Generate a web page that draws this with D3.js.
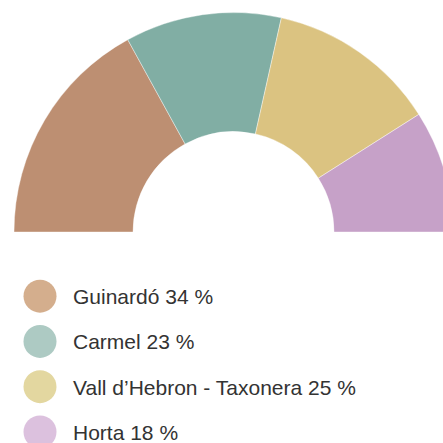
<!DOCTYPE html>
<html>
<head>
<meta charset="utf-8">
<script src="https://cdn.jsdelivr.net/npm/d3@7"></script>
<style>
  html, body { margin: 0; padding: 0; background: #fff; }
</style>
</head>
<body>
<div id="vis"></div>
<script>
// Half donut: share by neighbourhood
const names = ["Guinardó", "Carmel", "Vall d\u2019Hebron - Taxonera", "Horta"];
const shares = [34, 23, 25, 18];
const sliceColors = ["#bd8f72", "#81aea4", "#dbc381", "#c6a1c8"];
const legendColors = ["#d4ae8d", "#adcac3", "#e3d7a0", "#dcc1de"];

const width = 443;
const height = 443;
const cx = 233.5, cy = 232;
const outerR = 219.5, innerR = 100.5;

const svg = d3.select("#vis")
  .append("svg")
  .attr("width", width)
  .attr("height", height);

const data = names.map((n, i) => ({ name: n, value: shares[i], color: sliceColors[i], legend: legendColors[i] }));

const pie = d3.pie()
  .sort(null)
  .value(d => d.value)
  .startAngle(-Math.PI / 2)
  .endAngle(Math.PI / 2);

const arc = d3.arc()
  .innerRadius(innerR)
  .outerRadius(outerR);

svg.append("g")
  .attr("transform", `translate(${cx},${cy})`)
  .selectAll("path")
  .data(pie(data))
  .enter()
  .append("path")
  .attr("d", arc)
  .attr("fill", d => d.data.color)
  .attr("stroke", "#ffffff")
  .attr("stroke-width", 0.4);

// Legend
const legendY = d3.scaleBand()
  .domain(names)
  .range([273.5, 454.5]);

const legend = svg.append("g")
  .selectAll("g")
  .data(data)
  .enter()
  .append("g")
  .attr("transform", d => `translate(0,${legendY(d.name) + legendY.bandwidth() / 2})`);

legend.append("circle")
  .attr("cx", 40)
  .attr("cy", 0)
  .attr("r", 16.5)
  .attr("fill", d => d.legend);

legend.append("text")
  .attr("x", 73)
  .attr("y", 8)
  .attr("fill", "#333333")
  .style("font-family", "'Liberation Sans', Arial, sans-serif")
  .style("font-size", "21px")
  .text(d => `${d.name} ${d.value} %`);
</script>
</body>
</html>
